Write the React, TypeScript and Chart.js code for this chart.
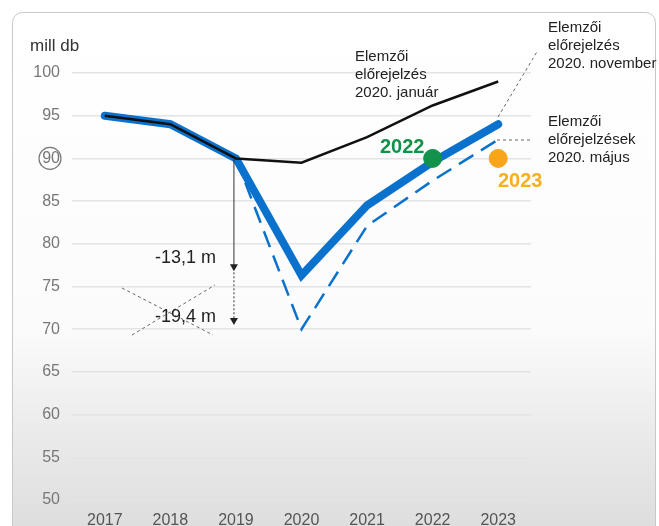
import React, { useEffect, useRef } from "react";
import { Chart, registerables } from "chart.js";

Chart.register(...registerables);

const years = ["2017", "2018", "2019", "2020", "2021", "2022", "2023"];
const forecastJanuary = [95, 94, 90, 89.5, 92.5, 96.2, 99];
const forecastNovember = [95, 94, 90, 76.3, 84.5, 89.6, 94];
const forecastMay = [null, null, 90, 70, 82.1, 87.4, 92.2];
const marker2022 = [null, null, null, null, null, 90, null];
const marker2023 = [null, null, null, null, null, null, 90];
const yTicks = [50, 55, 60, 65, 70, 75, 80, 85, 90, 95, 100];
const dropNovember = 13.1;
const dropMay = 19.4;
const baseYear = "2019";
const baseValue = 90;

const FONT = "'Liberation Sans', Arial, sans-serif";

function arrowDown(ctx: CanvasRenderingContext2D, x: number, y: number) {
  ctx.beginPath();
  ctx.moveTo(x - 4, y - 7);
  ctx.lineTo(x + 4, y - 7);
  ctx.lineTo(x, y);
  ctx.closePath();
  ctx.fill();
}

const decorPlugin = {
  id: "decor",
  beforeDraw(chart: any) {
    const ctx: CanvasRenderingContext2D = chart.ctx;
    const W = chart.width;
    const H = chart.height;
    ctx.save();
    ctx.fillStyle = "#ffffff";
    ctx.fillRect(0, 0, W, H);
    const g = ctx.createLinearGradient(0, 12, 0, H);
    g.addColorStop(0, "#ffffff");
    g.addColorStop(0.62, "#fbfbfb");
    g.addColorStop(0.8, "#ececec");
    g.addColorStop(1, "#dedede");
    ctx.fillStyle = g;
    ctx.beginPath();
    (ctx as any).roundRect(12.5, 12.5, 643, 560, 10);
    ctx.fill();
    ctx.strokeStyle = "#c8c8c8";
    ctx.lineWidth = 1;
    ctx.stroke();
    ctx.restore();
  },
  afterDatasetsDraw(chart: any) {
    const ctx: CanvasRenderingContext2D = chart.ctx;
    const xs = chart.scales.x;
    const ys = chart.scales.y;
    ctx.save();

    // unit label
    ctx.fillStyle = "#333";
    ctx.font = `17px ${FONT}`;
    ctx.textAlign = "left";
    ctx.textBaseline = "middle";
    ctx.fillText("mill db", 30, 46);

    // circle around 90 tick
    ctx.strokeStyle = "#777";
    ctx.lineWidth = 1.2;
    ctx.beginPath();
    ctx.arc(50, ys.getPixelForValue(90), 11, 0, Math.PI * 2);
    ctx.stroke();

    // drop arrows
    const xb = xs.getPixelForValue(years.indexOf(baseYear)) - 2;
    const y0 = ys.getPixelForValue(baseValue);
    const y1 = ys.getPixelForValue(baseValue - dropNovember);
    const y2 = ys.getPixelForValue(baseValue - dropMay);
    ctx.strokeStyle = "#333";
    ctx.fillStyle = "#222";
    ctx.lineWidth = 1;
    ctx.beginPath();
    ctx.moveTo(xb, y0);
    ctx.lineTo(xb, y1 - 4);
    ctx.stroke();
    arrowDown(ctx, xb, y1 + 1);
    ctx.setLineDash([2, 2]);
    ctx.beginPath();
    ctx.moveTo(xb, y1 + 2);
    ctx.lineTo(xb, y2 - 4);
    ctx.stroke();
    ctx.setLineDash([]);
    arrowDown(ctx, xb, y2 + 1);

    // crossed-out lines
    ctx.strokeStyle = "#666";
    ctx.setLineDash([3, 3]);
    ctx.beginPath();
    ctx.moveTo(122, 288);
    ctx.lineTo(213, 335);
    ctx.moveTo(132, 335);
    ctx.lineTo(215, 285);
    ctx.stroke();
    ctx.setLineDash([]);

    ctx.fillStyle = "#222";
    ctx.font = `18px ${FONT}`;
    ctx.textAlign = "right";
    ctx.fillText("-13,1 m", 216, 258);
    ctx.fillText("-19,4 m", 216, 317);

    // connectors
    ctx.strokeStyle = "#666";
    ctx.setLineDash([3, 3]);
    ctx.beginPath();
    ctx.moveTo(498, 117);
    ctx.lineTo(538, 50);
    ctx.moveTo(497, 140);
    ctx.lineTo(533, 140);
    ctx.stroke();
    ctx.setLineDash([]);

    // forecast labels
    ctx.fillStyle = "#222";
    ctx.font = `15px ${FONT}`;
    ctx.textAlign = "left";
    ["Elemzői", "előrejelzés", "2020. január"].forEach((t, i) => ctx.fillText(t, 355, 57 + i * 18));
    ["Elemzői", "előrejelzés", "2020. november"].forEach((t, i) => ctx.fillText(t, 548, 28 + i * 18));
    ["Elemzői", "előrejelzések", "2020. május"].forEach((t, i) => ctx.fillText(t, 548, 122 + i * 18));

    ctx.font = `bold 20px ${FONT}`;
    ctx.fillStyle = "#12924a";
    ctx.fillText("2022", 380, 147);
    ctx.fillStyle = "#f7b01c";
    ctx.fillText("2023", 498, 181);
    ctx.restore();
  },
};

export default function App() {
  const ref = useRef<HTMLCanvasElement>(null);
  useEffect(() => {
    if (!ref.current) return;
    const chart = new Chart(ref.current, {
      type: "line",
      data: {
        labels: years,
        datasets: [
          {
            label: "Elemzői előrejelzés 2020. január",
            data: forecastJanuary,
            borderColor: "#111111",
            borderWidth: 2.5,
            pointRadius: 0,
            order: 1,
          },
          {
            label: "2022",
            data: marker2022,
            showLine: false,
            pointRadius: 9,
            pointBackgroundColor: "#12924a",
            pointBorderColor: "#12924a",
            order: 0,
          },
          {
            label: "2023",
            data: marker2023,
            showLine: false,
            pointRadius: 9,
            pointBackgroundColor: "#f9a51a",
            pointBorderColor: "#f9a51a",
            order: 0,
          },
          {
            label: "Elemzői előrejelzés 2020. november",
            data: forecastNovember,
            borderColor: "#0a72cc",
            borderWidth: 8,
            pointRadius: 0,
            borderCapStyle: "round",
            order: 2,
          },
          {
            label: "Elemzői előrejelzések 2020. május",
            data: forecastMay,
            borderColor: "#0a72cc",
            borderWidth: 2.5,
            borderDash: [17, 9],
            pointRadius: 0,
            order: 3,
          },
        ],
      } as any,
      options: {
        animation: false,
        responsive: false,
        layout: { padding: { top: 73, right: 128, bottom: 0, left: 0 } },
        plugins: { legend: { display: false }, tooltip: { enabled: false } },
        scales: {
          x: {
            offset: true,
            grid: { display: false, drawTicks: false },
            border: { display: false },
            ticks: { color: "#555", font: { family: FONT, size: 16 }, padding: 11, maxRotation: 0 },
            afterFit: (s: any) => { s.height = 26; },
          },
          y: {
            min: 50,
            max: 100,
            afterBuildTicks: (s: any) => { s.ticks = yTicks.map((v) => ({ value: v })); },
            grid: { color: "#e4e4e4", drawTicks: false, lineWidth: 1.5 },
            border: { display: false },
            ticks: { color: "#777", font: { family: FONT, size: 16 }, padding: 12 },
            afterFit: (s: any) => { s.width = 72; },
          },
        },
      } as any,
      plugins: [decorPlugin],
    });
    return () => chart.destroy();
  }, []);
  return (
    <div style={{ position: "absolute", left: 0, top: 0, width: 659, height: 526 }}>
      <canvas ref={ref} width={659} height={526} style={{ display: "block" }} />
    </div>
  );
}
